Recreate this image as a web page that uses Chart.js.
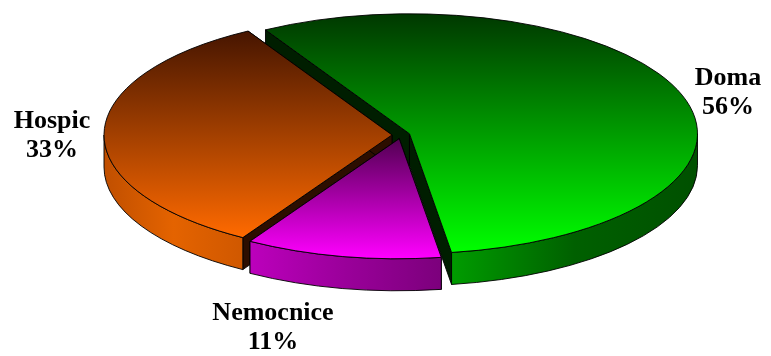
<!DOCTYPE html>
<html><head><meta charset="utf-8">
<script src="https://cdn.jsdelivr.net/npm/chart.js@4/dist/chart.umd.min.js"></script>
<style>html,body{margin:0;padding:0;background:#fff}#wrap{width:771px;height:356px}</style>
</head><body><div id="wrap"><canvas id="c" width="771" height="356"></canvas></div>
<script>
// Where people died, share in percent
const categories = ['Doma', 'Nemocnice', 'Hospic'];
const shares = [56, 11, 33];

// Top-face gradient (dark top -> light bottom), side wall stops (left -> right), cut faces
const topColors  = [['#003800', '#00ff00'], ['#520052', '#ff00ff'], ['#461500', '#ff6a00']];
const wallColors = [['#009c00', '#006000', '#005000'], ['#bc00bc', '#9a009a', '#7c007c'], ['#c04f00', '#e46300', '#d05800']];
const cutColors  = ['#001e00', '#300030', '#2c0e00'];

// Label anchor (centre x, first baseline) for each category
const labelPos = [[728, 85], [273, 320], [52, 128]];

// Tilted-disc geometry
const PIE = { cx: 401, cy: 135, rx: 288, ry: 120, depth: 32, explode: 9 };

const pie3d = {
  id: 'pie3d',
  beforeDatasetsDraw(chart) {
    const ctx = chart.ctx;
    const arcs = chart.getDatasetMeta(0).data;
    const order = arcs.map((a, i) => i).sort((i, j) => {
      const mi = (arcs[i].startAngle + arcs[i].endAngle) / 2;
      const mj = (arcs[j].startAngle + arcs[j].endAngle) / 2;
      return Math.sin(mi) - Math.sin(mj);
    });
    ctx.save();
    ctx.lineJoin = 'round';
    ctx.lineWidth = 1;
    ctx.strokeStyle = 'rgba(0,0,0,0.9)';
    for (const i of order) drawSlice(ctx, arcs[i], i);
    ctx.restore();
    return false;
  },
  afterDraw(chart) {
    const ctx = chart.ctx;
    ctx.save();
    ctx.fillStyle = '#000';
    ctx.font = 'bold 26px "Liberation Serif", "Times New Roman", serif';
    ctx.textAlign = 'center';
    ctx.textBaseline = 'alphabetic';
    const labels = chart.data.labels;
    const vals = chart.data.datasets[0].data;
    labels.forEach((lab, i) => {
      const [x, y] = labelPos[i];
      ctx.fillText(lab, x, y);
      ctx.fillText(vals[i] + '%', x, y + 29);
    });
    ctx.restore();
  }
};

function drawSlice(ctx, arc, i) {
  const { rx, ry, depth: D } = PIE;
  const a0 = arc.startAngle, a1 = arc.endAngle, mid = (a0 + a1) / 2;
  const cx = PIE.cx + PIE.explode * Math.cos(mid);
  const cy = PIE.cy + PIE.explode * Math.sin(mid) * ry / rx;
  const pt = (t, dz) => [cx + rx * Math.cos(t), cy + ry * Math.sin(t) + (dz || 0)];

  // cut faces along the two radial edges
  for (const t of [a0, a1]) {
    const [x, y] = pt(t);
    ctx.beginPath();
    ctx.moveTo(cx, cy); ctx.lineTo(x, y); ctx.lineTo(x, y + D); ctx.lineTo(cx, cy + D);
    ctx.closePath();
    ctx.fillStyle = cutColors[i];
    ctx.fill(); ctx.stroke();
  }

  // outer wall, only the front half of the rim is visible
  for (let k = -1; k <= 1; k++) {
    const s = Math.max(a0, 2 * Math.PI * k), e = Math.min(a1, 2 * Math.PI * k + Math.PI);
    if (e <= s) continue;
    const [xs] = pt(s), [xe, ye] = pt(e);
    ctx.beginPath();
    ctx.ellipse(cx, cy, rx, ry, 0, s, e);
    ctx.lineTo(xe, ye + D);
    ctx.ellipse(cx, cy + D, rx, ry, 0, e, s, true);
    ctx.closePath();
    const g = ctx.createLinearGradient(Math.min(xs, xe), 0, Math.max(xs, xe), 0);
    const w = wallColors[i];
    g.addColorStop(0, w[0]); g.addColorStop(0.5, w[1]); g.addColorStop(1, w[2]);
    ctx.fillStyle = g;
    ctx.fill(); ctx.stroke();
  }

  // top face with a vertical gradient over its own height
  let yMin = cy, yMax = cy;
  for (let n = 0; n <= 60; n++) {
    const y = pt(a0 + (a1 - a0) * n / 60)[1];
    yMin = Math.min(yMin, y); yMax = Math.max(yMax, y);
  }
  ctx.beginPath();
  ctx.moveTo(cx, cy);
  ctx.ellipse(cx, cy, rx, ry, 0, a0, a1);
  ctx.closePath();
  const g = ctx.createLinearGradient(0, yMin, 0, yMax);
  g.addColorStop(0, topColors[i][0]); g.addColorStop(1, topColors[i][1]);
  ctx.fillStyle = g;
  ctx.fill(); ctx.stroke();
}

new Chart(document.getElementById('c'), {
  type: 'pie',
  data: {
    labels: categories,
    datasets: [{ data: shares, backgroundColor: topColors.map(c => c[1]), borderWidth: 0 }]
  },
  options: {
    responsive: false,
    animation: false,
    events: [],
    rotation: -30,
    plugins: { legend: { display: false }, tooltip: { enabled: false } }
  },
  plugins: [pie3d]
});
</script>
</body></html>
